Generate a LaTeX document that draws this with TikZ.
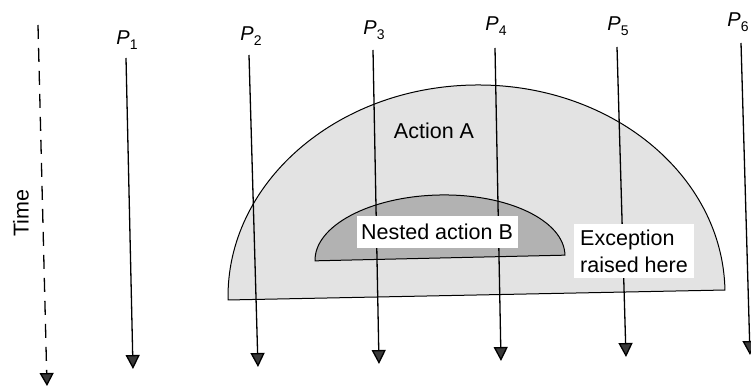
\documentclass[tikz,border=0pt]{standalone}
\usepackage{fontspec}
\setmainfont{Liberation Sans}
\usetikzlibrary{arrows.meta}
\tikzset{
  proc/.style={line width=1.3pt, -{Triangle[length=14pt,width=14pt,fill=gray!45!black]}},
  plabel/.style={font=\fontsize{20}{22}\selectfont, inner sep=0pt},
  lbl/.style={font=\fontsize{21.5}{27}\selectfont},
}
\newcommand{\Pl}[1]{\textit{P}\raisebox{-0.45ex}{\fontsize{14}{14}\selectfont #1}}
\begin{document}
\begin{tikzpicture}[x=1pt,y=-1pt]
\useasboundingbox (0,0) rectangle (751,387);
\clip (0,0) rectangle (751,387);
% Action A dome
\begin{scope}[shift={(476.5,295)}, rotate=1.15]
  \filldraw[fill=gray!22, draw=black, line width=1pt]
    (-248.5,0) arc[start angle=180, end angle=360, x radius=248.5, y radius=210] -- cycle;
\end{scope}
% Nested action B
\begin{scope}[shift={(440,258)}, rotate=1.3]
  \filldraw[fill=gray!60, draw=black, line width=1pt]
    (-125,0) arc[start angle=180, end angle=360, x radius=125, y radius=63] -- cycle;
\end{scope}
\node[lbl] (A) at (434,131) {Action A};
% Time axis
\node[lbl, rotate=90] (time) at (21,213) {Time};
\coordinate (t0) at (38,25);
\coordinate (t1) at (47,386);
\draw[line width=1.3pt, dash pattern=on 14pt off 9pt, -{Triangle[length=13pt,width=14pt,fill=gray!45!black]}] (t0) -- (t1);
% Processes
\node[plabel] (P1) at (127,40) {\Pl{1}};
\node[plabel] (P2) at (251,36) {\Pl{2}};
\node[plabel] (P3) at (374,30) {\Pl{3}};
\node[plabel] (P4) at (496,26) {\Pl{4}};
\node[plabel] (P5) at (618,26) {\Pl{5}};
\node[plabel] (P6) at (738,22) {\Pl{6}};
\coordinate (s1) at (126,58);  \coordinate (e1) at (133,369);
\coordinate (s2) at (249,55);  \coordinate (e2) at (258,367);
\coordinate (s3) at (373,50);  \coordinate (e3) at (379,364);
\coordinate (s4) at (495,48);  \coordinate (e4) at (501,361);
\coordinate (s5) at (617,47);  \coordinate (e5) at (626,357);
\coordinate (s6) at (741,43);  \coordinate (e6) at (750,355);
\foreach \i in {1,...,6} { \draw[proc] (s\i) -- (e\i); }
% Labels with white background
\node[lbl, fill=white, draw=none, minimum width=161pt, minimum height=32pt, inner sep=2pt] (B) at (437,232) {Nested action B};
\node[lbl, fill=white, align=left, inner sep=6pt] (exc) at (634,251) {Exception\\raised here};
\end{tikzpicture}
\end{document}
